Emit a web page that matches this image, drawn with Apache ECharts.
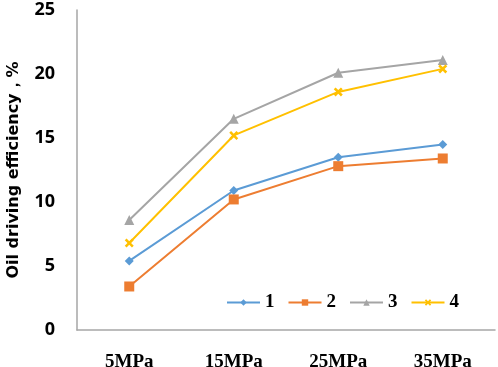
<!DOCTYPE html>
<html>
<head>
<meta charset="utf-8">
<script src="https://cdn.jsdelivr.net/npm/echarts@6/dist/echarts.min.js"></script>
<style>
  html, body { margin: 0; padding: 0; background: #fff; }
  #chart { width: 498px; height: 367px; }
</style>
</head>
<body>
<div id="chart"></div>
<script>
// 数据
const categories = ["5MPa", "15MPa", "25MPa", "35MPa"];
const seriesNames = ["1", "2", "3", "4"];
const s1 = [5.4, 10.9, 13.5, 14.5];
const s2 = [3.4, 10.2, 12.8, 13.4];
const s3 = [8.6, 16.5, 20.1, 21.1];
const s4 = [6.8, 15.2, 18.6, 20.4];
const yTicks = [0, 5, 10, 15, 20, 25];

const colors = ["#5B9BD5", "#ED7D31", "#A5A5A5", "#FFC000"];
const symbols = [
  "diamond",
  "rect",
  "triangle",
  "path://M2,0L5,3L8,0L10,2L7,5L10,8L8,10L5,7L2,10L0,8L3,5L0,2Z",
];
const sizes = [9, 10, 10, 9];

const chart = echarts.init(document.getElementById("chart"));

function makeSeries(name, data, i) {
  return {
    name: name,
    type: "line",
    data: data,
    symbol: symbols[i],
    symbolSize: sizes[i],
    showSymbol: true,
    lineStyle: { color: colors[i], width: 2 },
    itemStyle: { color: colors[i] },
    animation: false,
  };
}

chart.setOption({
  animation: false,
  grid: {
    left: 77,
    right: 3,
    top: 10,
    bottom: 37,
    containLabel: false,
    outerBoundsMode: "none",
  },
  legend: {
    left: 221,
    top: 288,
    itemWidth: 33,
    itemHeight: 8,
    itemGap: 13,
    data: seriesNames,
    textStyle: {
      fontFamily: "Liberation Serif",
      fontWeight: "bold",
      fontSize: 19,
      color: "#000",
    },
  },
  xAxis: {
    type: "category",
    data: categories,
    boundaryGap: true,
    axisLine: { lineStyle: { color: "#A6A6A6", width: 1.5 } },
    axisTick: { show: false },
    axisLabel: {
      margin: 23,
      color: "#000",
      fontFamily: "Liberation Serif",
      fontWeight: "bold",
      fontSize: 19,
    },
  },
  yAxis: {
    type: "value",
    min: yTicks[0],
    max: yTicks[yTicks.length - 1],
    interval: 5,
    name: "Oil driving efficiency，%",
    nameLocation: "middle",
    nameGap: 55,
    nameTextStyle: {
      color: "#000",
      fontFamily: "DejaVu Sans",
      fontWeight: "bold",
      fontSize: 16,
    },
    axisLine: { show: true, lineStyle: { color: "#A6A6A6", width: 1.5 } },
    axisTick: { show: false },
    splitLine: { show: false },
    axisLabel: {
      margin: 22,
      color: "#000",
      fontFamily: "Open Sans",
      fontWeight: "bold",
      fontSize: 18,
    },
  },
  series: [
    makeSeries(seriesNames[0], s1, 0),
    makeSeries(seriesNames[1], s2, 1),
    makeSeries(seriesNames[2], s3, 2),
    makeSeries(seriesNames[3], s4, 3),
  ],
});
</script>
</body>
</html>
